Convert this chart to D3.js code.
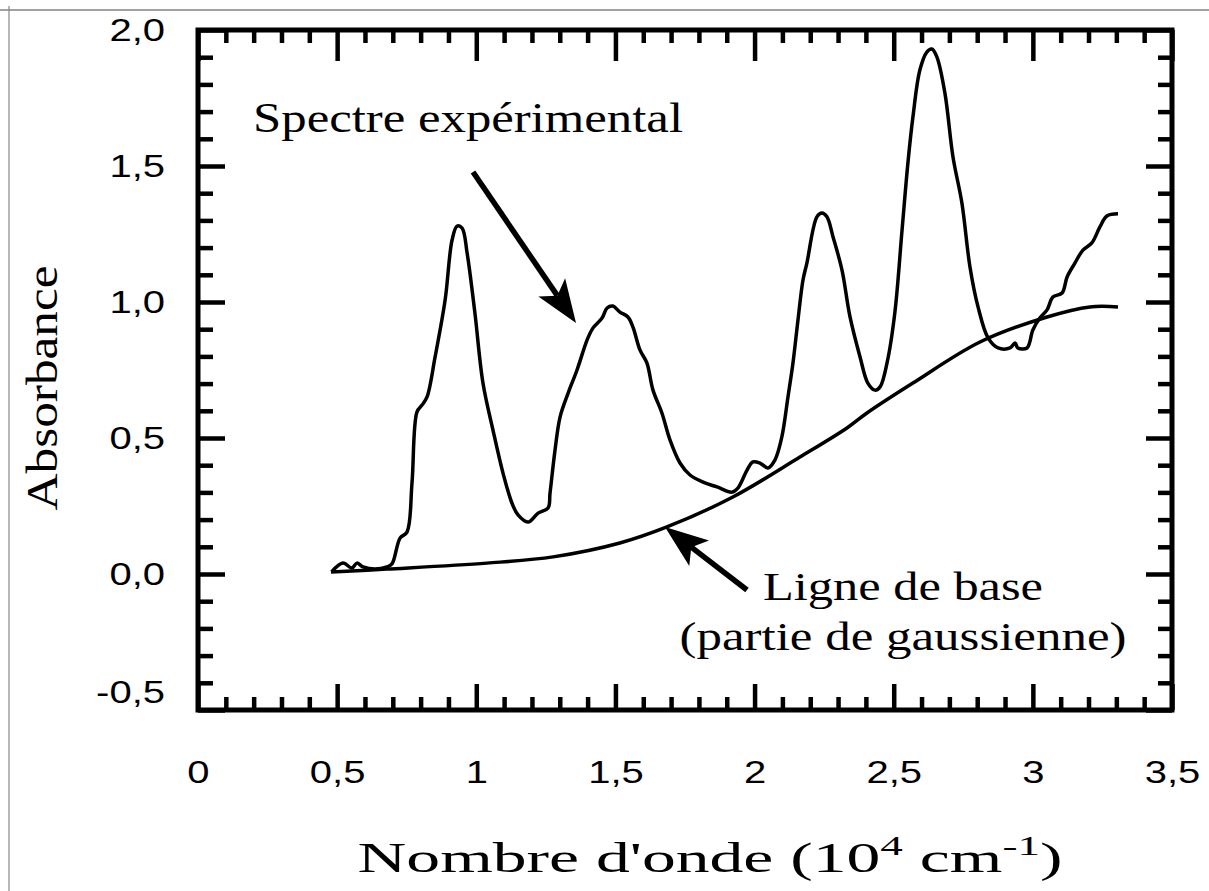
<!DOCTYPE html>
<html>
<head>
<meta charset="utf-8">
<script src="https://cdn.jsdelivr.net/npm/d3@7"></script>
<style>
  body { margin: 0; background: #fff; }
  .serif { font-family: "Liberation Serif", "Times New Roman", serif; fill: #000; }
</style>
</head>
<body>
<svg id="chart" width="1209" height="891"></svg>
<script>
var specX = [0.480,0.521,0.553,0.571,0.593,0.636,0.679,0.697,0.726,0.751,0.769,0.787,0.805,0.823,0.852,0.888,0.913,0.931,0.949,0.967,
  0.995,1.024,1.060,1.096,1.128,1.150,1.186,1.222,1.258,1.265,1.283,1.301,1.330,1.362,1.398,1.419,1.452,1.470,1.491,1.516,
  1.545,1.563,1.588,1.613,1.635,1.667,1.696,1.732,1.768,1.815,1.865,1.919,1.940,1.973,1.994,2.019,2.048,2.073,2.098,2.120,
  2.138,2.156,2.174,2.188,2.224,2.242,2.260,2.282,2.314,2.343,2.379,2.407,2.433,2.451,2.476,2.504,2.530,2.551,2.569,2.594,
  2.619,2.637,2.655,2.684,2.713,2.745,2.774,2.803,2.839,2.875,2.918,2.936,2.946,2.979,3.000,3.025,3.051,3.072,3.105,3.123,
  3.151,3.180,3.212,3.241,3.266,3.306];
var specY = [0.008,0.040,0.022,0.040,0.026,0.018,0.026,0.037,0.132,0.154,0.335,0.596,0.621,0.651,0.798,1.007,1.228,1.279,1.272,1.180,
  0.960,0.702,0.529,0.371,0.261,0.217,0.191,0.224,0.243,0.298,0.456,0.577,0.665,0.750,0.860,0.904,0.941,0.978,0.985,0.963,
  0.945,0.908,0.824,0.776,0.676,0.592,0.493,0.408,0.364,0.338,0.320,0.301,0.316,0.382,0.412,0.408,0.390,0.419,0.504,0.651,
  0.776,0.934,1.081,1.143,1.313,1.327,1.313,1.239,1.118,0.945,0.798,0.702,0.676,0.688,0.776,0.960,1.265,1.511,1.680,1.853,
  1.919,1.930,1.901,1.768,1.533,1.364,1.129,0.982,0.868,0.831,0.831,0.849,0.831,0.831,0.897,0.941,0.971,1.018,1.033,1.092,
  1.143,1.191,1.217,1.276,1.316,1.324];

// baseline (part of a gaussian)
var baseX = [0.478,0.679,1.038,1.276,1.516,1.685,1.922,2.163,2.332,2.404,2.569,2.810,3.051,3.205,3.306];
var baseY = [0.007,0.018,0.040,0.063,0.114,0.173,0.283,0.430,0.537,0.592,0.702,0.853,0.945,0.982,0.982];

var xMajor = [0, 0.5, 1, 1.5, 2, 2.5, 3, 3.5];
var xLabels = ["0", "0,5", "1", "1,5", "2", "2,5", "3", "3,5"];
var yMajor = [-0.5, 0, 0.5, 1, 1.5, 2];
var yLabels = ["-0,5", "0,0", "0,5", "1,0", "1,5", "2,0"];

var svg = d3.select("#chart");
var stretch = 1.25; // the scan is wider than tall, text looks stretched

// scan edge lines
svg.append("line").attr("x1", 0).attr("x2", 1209).attr("y1", 10).attr("y2", 10)
   .attr("stroke", "#444").attr("stroke-width", 1.2);
svg.append("line").attr("x1", 9).attr("x2", 9).attr("y1", 6).attr("y2", 891)
   .attr("stroke", "#888").attr("stroke-width", 1.2);

var x = d3.scaleLinear().domain([0, 3.5]).range([198, 1172]);
var y = d3.scaleLinear().domain([-0.5, 2]).range([710, 30]);

var xMinor = d3.range(1, 35).map(d => d / 10).filter(d => Math.abs(d * 2 - Math.round(d * 2)) > 1e-6);
var yMinor = d3.range(-4, 20).map(d => d / 10).filter(d => Math.abs(d * 2 - Math.round(d * 2)) > 1e-6);

function fmt(vals, labels) {
  return d => labels[vals.findIndex(v => Math.abs(v - d) < 1e-9)];
}

function styleAxis(g) {
  g.select(".domain").remove();
  g.selectAll(".tick line").attr("stroke", "#000").attr("stroke-width", 4.5);
  g.selectAll(".tick text").attr("font-family", "'Liberation Sans', Arial, sans-serif")
   .attr("font-size", 32).attr("fill", "#000");
}

// bottom
var botAx = svg.append("g").attr("transform", "translate(0,710)")
   .call(d3.axisBottom(x).tickValues(xMajor).tickFormat(fmt(xMajor, xLabels)).tickSizeInner(-26).tickSizeOuter(0).tickPadding(50))
   .call(styleAxis);
botAx.selectAll(".tick text").attr("transform", "scale(" + stretch + ",1)");
svg.append("g").attr("transform", "translate(0,710)")
   .call(d3.axisBottom(x).tickValues(xMinor).tickFormat("").tickSizeInner(-13).tickSizeOuter(0))
   .call(styleAxis);
// top
svg.append("g").attr("transform", "translate(0,30)")
   .call(d3.axisTop(x).tickValues(xMajor).tickFormat("").tickSizeInner(-31).tickSizeOuter(0))
   .call(styleAxis);
svg.append("g").attr("transform", "translate(0,30)")
   .call(d3.axisTop(x).tickValues(xMinor).tickFormat("").tickSizeInner(-13).tickSizeOuter(0))
   .call(styleAxis);
// left
var leftAx = svg.append("g").attr("transform", "translate(198,0)")
   .call(d3.axisLeft(y).tickValues(yMajor).tickFormat(fmt(yMajor, yLabels)).tickSizeInner(-27).tickSizeOuter(0).tickPadding(33))
   .call(styleAxis);
leftAx.selectAll(".tick text").attr("x", -33 / stretch).attr("transform", "scale(" + stretch + ",1)");
leftAx.selectAll(".tick text").filter(d => d === -0.5).attr("dy", "-0.25em");
svg.append("g").attr("transform", "translate(198,0)")
   .call(d3.axisLeft(y).tickValues(yMinor).tickFormat("").tickSizeInner(-15).tickSizeOuter(0))
   .call(styleAxis);
// right
svg.append("g").attr("transform", "translate(1172,0)")
   .call(d3.axisRight(y).tickValues(yMajor).tickFormat("").tickSizeInner(-26).tickSizeOuter(0))
   .call(styleAxis);
svg.append("g").attr("transform", "translate(1172,0)")
   .call(d3.axisRight(y).tickValues(yMinor).tickFormat("").tickSizeInner(-14).tickSizeOuter(0))
   .call(styleAxis);

// frame
svg.append("rect").attr("x", 198).attr("y", 30).attr("width", 1172 - 198).attr("height", 710 - 30)
   .attr("fill", "none").attr("stroke", "#000").attr("stroke-width", 5);

// curves
var line = d3.line().x(d => x(d[0])).y(d => y(d[1])).curve(d3.curveCatmullRom.alpha(0.5));
svg.append("path").datum(d3.zip(baseX, baseY)).attr("d", line)
   .attr("fill", "none").attr("stroke", "#000").attr("stroke-width", 3.5);
svg.append("path").datum(d3.zip(specX, specY)).attr("d", line)
   .attr("fill", "none").attr("stroke", "#000").attr("stroke-width", 3.5).attr("stroke-linejoin", "round");

// arrows
function arrow(x1, y1, x2, y2) {
  var ang = Math.atan2(y2 - y1, x2 - x1), len = 46, half = 0.36;
  var bx = x2 - 0.72 * len * Math.cos(ang), by = y2 - 0.72 * len * Math.sin(ang);
  svg.append("line").attr("x1", x1).attr("y1", y1).attr("x2", bx).attr("y2", by)
     .attr("stroke", "#000").attr("stroke-width", 5.5);
  var p1 = [x2 - len * Math.cos(ang - half), y2 - len * Math.sin(ang - half)];
  var p2 = [x2 - len * Math.cos(ang + half), y2 - len * Math.sin(ang + half)];
  svg.append("path").attr("d", "M" + [x2, y2] + "L" + p1 + "L" + [bx, by] + "L" + p2 + "Z").attr("fill", "#000");
}
arrow(473, 172, 576, 323);
arrow(747, 590, 665, 527);

// annotations
function label(txt, cx, by, size, width) {
  return svg.append("text").attr("class", "serif").attr("x", cx).attr("y", by)
     .attr("text-anchor", "middle").attr("font-size", size)
     .attr("textLength", width).attr("lengthAdjust", "spacingAndGlyphs").text(txt);
}
label("Spectre expérimental", 468, 132, 43, 430);
label("Ligne de base", 903, 600, 41, 280);
label("(partie de gaussienne)", 903, 650, 41, 447);

// axis titles
var xt = svg.append("text").attr("class", "serif").attr("x", 710).attr("y", 872)
   .attr("text-anchor", "middle").attr("font-size", 42)
   .attr("textLength", 705).attr("lengthAdjust", "spacingAndGlyphs");
xt.append("tspan").text("Nombre d'onde (10");
xt.append("tspan").attr("dy", -17).attr("font-size", 28).text("4");
xt.append("tspan").attr("dy", 17).text(" cm");
xt.append("tspan").attr("dy", -17).attr("font-size", 28).text("-1");
xt.append("tspan").attr("dy", 17).text(")");

svg.append("text").attr("class", "serif").attr("transform", "translate(57,388) rotate(-90)")
   .attr("text-anchor", "middle").attr("font-size", 44)
   .attr("textLength", 245).attr("lengthAdjust", "spacingAndGlyphs").text("Absorbance");
</script>
</body>
</html>
